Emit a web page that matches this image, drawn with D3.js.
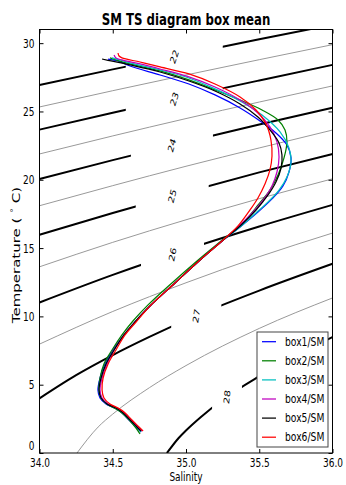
<!DOCTYPE html>
<html><head><meta charset="utf-8">
<script src="https://cdn.jsdelivr.net/npm/d3@7"></script>
<style>body{margin:0;background:#fff}svg{display:block}text{font-family:"DejaVu Sans",sans-serif}</style>
</head><body>
<script>
// ---------- data ----------
const salinityTicks = [34.0, 34.5, 35.0, 35.5, 36.0];
const temperatureTicks = [0, 5, 10, 15, 20, 25, 30];
const seriesNames = ["box1/SM", "box2/SM", "box3/SM", "box4/SM", "box5/SM", "box6/SM"];
const seriesColors = ["#0000ff", "#008000", "#00bfbf", "#bf00bf", "#000000", "#ff0000"];

// [salinity, temperature]
const box1 = [[34.468,28.84],[34.536,28.70],[34.618,28.33],[34.823,27.67],[35.020,27.01],[35.198,26.21],[35.369,25.26],[35.505,24.31],[35.614,23.43],[35.689,22.55],[35.717,21.60],[35.703,20.57],[35.662,19.55],[35.587,18.60],[35.491,17.64],[35.369,16.55],[35.246,15.52],[35.096,14.13],[34.925,12.45],[34.754,10.76],[34.652,9.59],[34.577,8.64],[34.502,7.54],[34.447,6.52],[34.413,5.49],[34.399,4.61],[34.413,4.03],[34.454,3.59],[34.515,3.29],[34.556,3.00],[34.611,2.42],[34.659,1.90],[34.693,1.54]];
const box2 = [[34.481,28.92],[34.543,28.70],[34.618,28.48],[34.823,27.97],[35.020,27.31],[35.198,26.58],[35.369,25.84],[35.519,25.11],[35.628,24.38],[35.676,23.65],[35.689,22.77],[35.669,21.60],[35.628,20.35],[35.573,19.25],[35.498,18.23],[35.382,16.77],[35.239,15.52],[35.075,14.06],[34.904,12.45],[34.741,10.84],[34.638,9.66],[34.563,8.64],[34.495,7.54],[34.440,6.52],[34.413,5.49],[34.406,4.61],[34.420,4.03],[34.461,3.59],[34.522,3.22],[34.563,2.93],[34.618,2.34],[34.659,1.83],[34.686,1.39]];
const box3 = [[34.495,28.92],[34.549,28.77],[34.618,28.55],[34.823,28.04],[35.020,27.45],[35.198,26.65],[35.369,25.77],[35.519,24.74],[35.642,23.50],[35.703,22.33],[35.717,21.30],[35.689,20.21],[35.635,19.25],[35.560,18.38],[35.478,17.57],[35.369,16.55],[35.246,15.52],[35.096,14.13],[34.925,12.45],[34.754,10.76],[34.652,9.59],[34.577,8.64],[34.509,7.54],[34.454,6.52],[34.420,5.49],[34.406,4.61],[34.420,4.03],[34.461,3.59],[34.522,3.29],[34.563,3.00],[34.618,2.42],[34.666,1.90],[34.693,1.54]];
const box4 = [[34.509,29.14],[34.522,28.92],[34.563,28.77],[34.686,28.48],[34.823,28.11],[35.020,27.53],[35.198,26.79],[35.369,25.84],[35.491,24.89],[35.573,23.87],[35.621,22.77],[35.635,21.67],[35.621,20.57],[35.587,19.55],[35.532,18.60],[35.464,17.72],[35.362,16.62],[35.246,15.52],[35.096,14.13],[34.925,12.45],[34.754,10.76],[34.652,9.59],[34.577,8.64],[34.509,7.54],[34.461,6.52],[34.427,5.49],[34.413,4.61],[34.427,4.03],[34.468,3.59],[34.529,3.29],[34.570,3.00],[34.625,2.42],[34.673,1.90],[34.700,1.61]];
const box5 = [[34.427,28.84],[34.488,28.70],[34.618,28.41],[34.823,27.89],[35.020,27.23],[35.198,26.50],[35.369,25.55],[35.491,24.60],[35.573,23.65],[35.635,22.70],[35.655,21.82],[35.649,20.86],[35.614,19.84],[35.560,18.89],[35.478,17.79],[35.369,16.62],[35.246,15.52],[35.096,14.13],[34.925,12.45],[34.754,10.76],[34.652,9.59],[34.577,8.64],[34.509,7.54],[34.454,6.52],[34.420,5.49],[34.406,4.61],[34.420,4.03],[34.461,3.59],[34.522,3.29],[34.563,3.00],[34.618,2.42],[34.666,1.90],[34.693,1.61]];
const box6 = [[34.536,29.28],[34.543,29.06],[34.563,28.92],[34.686,28.62],[34.823,28.26],[35.020,27.75],[35.198,27.01],[35.369,26.06],[35.478,25.11],[35.546,24.09],[35.580,22.91],[35.587,21.74],[35.573,20.72],[35.539,19.69],[35.491,18.67],[35.437,17.79],[35.355,16.62],[35.246,15.52],[35.096,14.13],[34.925,12.45],[34.754,10.76],[34.659,9.59],[34.584,8.64],[34.522,7.54],[34.468,6.52],[34.434,5.49],[34.427,4.61],[34.440,4.03],[34.481,3.59],[34.536,3.29],[34.577,3.00],[34.631,2.42],[34.679,1.90],[34.707,1.61]];

// sigma-t contour lines [salinity, temperature]
const sigmaLevels = [22, 22.5, 23, 23.5, 24, 24.5, 25, 25.5, 26, 26.5, 27, 27.5, 28];
const sigma22   = [[34,26.93],[34.5,28.08],[35,29.19],[35.5,30.28],[36,31.35]];
const sigma22_5 = [[34,25.33],[34.5,26.52],[35,27.67],[35.5,28.79],[36,29.89]];
const sigma23   = [[34,23.67],[34.5,24.91],[35,26.11],[35.5,27.27],[36,28.41]];
const sigma23_5 = [[34,21.89],[34.5,23.21],[35,24.48],[35.5,25.69],[36,26.87]];
const sigma24   = [[34,20.05],[34.5,21.44],[35,22.77],[35.5,24.05],[36,25.27]];
const sigma24_5 = [[34,18.10],[34.5,19.57],[35,20.99],[35.5,22.33],[36,23.64]];
const sigma25   = [[34,15.97],[34.5,17.57],[35,19.09],[35.5,20.54],[36,21.89]];
const sigma25_5 = [[34,13.63],[34.5,15.42],[35,17.07],[35.5,18.62],[36,20.07]];
const sigma26   = [[34,11.02],[34.5,13.04],[35,14.88],[35.5,16.58],[36,18.16]];
const sigma26_5 = [[34,7.97],[34.5,10.36],[35,12.46],[35.5,14.37],[36,16.10]];
const sigma27   = [[34,4.00],[34.25,5.70],[34.5,7.17],[34.75,8.50],[35,9.73],[35.5,11.89],[36,13.85]];
const sigma27_5 = [[34.256,0],[34.4,1.9],[34.5,2.85],[34.75,4.78],[35,6.40],[35.5,9.12],[36,11.35]];
const sigma28   = [[34.87,0],[34.95,1.1],[35,1.65],[35.1,2.62],[35.25,3.9],[35.5,5.62],[35.75,7.13],[36,8.48]];
const sigmaLines = [sigma22, sigma22_5, sigma23, sigma23_5, sigma24, sigma24_5, sigma25, sigma25_5, sigma26, sigma26_5, sigma27, sigma27_5, sigma28];

// contour labels (integer levels): salinity of label centre and half-gap (salinity units)
const labelLevels   = [22, 23, 24, 25, 26, 27, 28];
const labelSalinity = [34.92, 34.92, 34.904, 34.906, 34.908, 35.07, 35.28];
const labelHalfGap  = [0.331, 0.331, 0.280, 0.249, 0.215, 0.171, 0.102];

// ---------- drawing ----------
const W = 346, H = 485;
const SQ = 0.72; // horizontal text squash seen in the reference
const x = d3.scaleLinear().domain([34, 36]).range([39.5, 332.5]);
const y = d3.scaleLinear().domain([0, 31]).range([453, 29.5]);
const [x0, x1] = x.range(), [y0, y1] = [y.range()[1], y.range()[0]];

const svg = d3.select("body").append("svg").attr("width", W).attr("height", H);
const defs = svg.append("defs");
defs.append("clipPath").attr("id", "plotClip").append("rect")
  .attr("x", x0).attr("y", y0).attr("width", x1 - x0).attr("height", y1 - y0);

const contourLine = d3.line().x(d => x(d[0])).y(d => y(d[1])).curve(d3.curveMonotoneX);
const cg = svg.append("g").attr("clip-path", "url(#plotClip)");

// gray half-levels
sigmaLevels.forEach((lev, i) => {
  if (lev % 1 !== 0) {
    cg.append("path").attr("d", contourLine(sigmaLines[i]))
      .attr("fill", "none").attr("stroke", "#999").attr("stroke-width", 1);
  }
});

function tempAt(pts, s) {
  for (let k = 0; k < pts.length - 1; k++) {
    const a = pts[k], b = pts[k + 1];
    if (s >= a[0] && s <= b[0]) {
      const f = (s - a[0]) / (b[0] - a[0]);
      return { t: a[1] + f * (b[1] - a[1]), slope: (b[1] - a[1]) / (b[0] - a[0]) };
    }
  }
  return null;
}

// black integer levels with label gaps
labelLevels.forEach((lev, j) => {
  const i = sigmaLevels.indexOf(lev);
  const pts = sigmaLines[i];
  const ls = labelSalinity[j], hg = labelHalfGap[j];
  const cp = defs.append("clipPath").attr("id", "gap" + j);
  cp.append("rect").attr("x", x0).attr("y", y0).attr("width", x(ls - hg) - x0).attr("height", y1 - y0);
  cp.append("rect").attr("x", x(ls + hg)).attr("y", y0).attr("width", x1 - x(ls + hg)).attr("height", y1 - y0);
  cg.append("path").attr("d", contourLine(pts)).attr("clip-path", "url(#gap" + j + ")")
    .attr("fill", "none").attr("stroke", "#000").attr("stroke-width", 2);
  const r = tempAt(pts, ls);
  const ang = Math.atan(r.slope) * 180 / Math.PI;
  svg.append("text")
    .attr("transform", `translate(${x(ls)},${y(r.t)}) scale(${SQ},1) rotate(${-ang})`)
    .attr("text-anchor", "middle").attr("dy", "0.36em")
    .attr("font-size", 11).attr("fill", "#000").text(lev);
});

// data series
const dataLine = d3.line().x(d => x(d[0])).y(d => y(d[1])).curve(d3.curveCatmullRom.alpha(0.5));
const series = [box1, box2, box3, box4, box5, box6];
const dg = svg.append("g").attr("clip-path", "url(#plotClip)");
series.forEach((pts, i) => {
  dg.append("path").attr("d", dataLine(pts)).attr("fill", "none")
    .attr("stroke", seriesColors[i]).attr("stroke-width", 1.25);
});

// axes (ticks inward on all sides)
const fmt = d3.format(".1f");
const axB = svg.append("g").attr("transform", `translate(0,${y1})`)
  .call(d3.axisBottom(x).tickValues(salinityTicks).tickFormat(fmt).tickSize(-4).tickPadding(5));
const axT = svg.append("g").attr("transform", `translate(0,${y0})`)
  .call(d3.axisTop(x).tickValues(salinityTicks).tickFormat("").tickSize(-4));
const axL = svg.append("g").attr("transform", `translate(${x0},0)`)
  .call(d3.axisLeft(y).tickValues(temperatureTicks).tickSize(-4).tickPadding(4));
const axR = svg.append("g").attr("transform", `translate(${x1},0)`)
  .call(d3.axisRight(y).tickValues(temperatureTicks).tickFormat("").tickSize(-4));
[axB, axT, axL, axR].forEach(a => { a.select(".domain").remove(); a.selectAll("line").attr("stroke", "#000"); });
axB.selectAll("text").attr("font-size", 12.5).attr("font-family", "DejaVu Sans").attr("fill", "#000")
  .attr("transform", `scale(${SQ},1)`);
axL.selectAll("text").attr("font-size", 12.5).attr("font-family", "DejaVu Sans").attr("fill", "#000")
  .attr("transform", `scale(${SQ},1)`).attr("x", -5 / SQ);
axL.selectAll("text").filter(d => d === 0).attr("dy", "-0.28em");

// frame
svg.append("rect").attr("x", x0).attr("y", y0).attr("width", x1 - x0).attr("height", y1 - y0)
  .attr("fill", "none").attr("stroke", "#000").attr("stroke-width", 1);

// titles
svg.append("text").attr("transform", `translate(${(x0 + x1) / 2},25) scale(0.76,1)`)
  .attr("text-anchor", "middle").attr("font-size", 15.5).attr("font-weight", "bold")
  .text("SM TS diagram box mean");
svg.append("text").attr("transform", `translate(${(x0 + x1) / 2},481) scale(${SQ},1)`)
  .attr("text-anchor", "middle").attr("font-size", 12.5).text("Salinity");
const yl = svg.append("text").attr("transform", `translate(20,255) scale(${SQ},1) rotate(-90)`)
  .attr("text-anchor", "middle").attr("font-size", 15);
yl.append("tspan").text("Temperature ( ");
yl.append("tspan").attr("baseline-shift", "super").attr("font-size", 10).text("°");
yl.append("tspan").text(" C)");

// legend
const lg = svg.append("g");
lg.append("rect").attr("x", 257).attr("y", 332).attr("width", 71).attr("height", 115)
  .attr("fill", "#fff").attr("stroke", "#444").attr("stroke-width", 1);
seriesNames.forEach((n, i) => {
  const yy = 341.7 + i * 19.1;
  lg.append("line").attr("x1", 262).attr("x2", 276).attr("y1", yy).attr("y2", yy)
    .attr("stroke", seriesColors[i]).attr("stroke-width", 1.25);
  lg.append("text").attr("transform", `translate(285,${yy}) scale(0.8,1)`).attr("dy", "0.36em")
    .attr("font-size", 11.5).text(n);
});
</script>
</body></html>
